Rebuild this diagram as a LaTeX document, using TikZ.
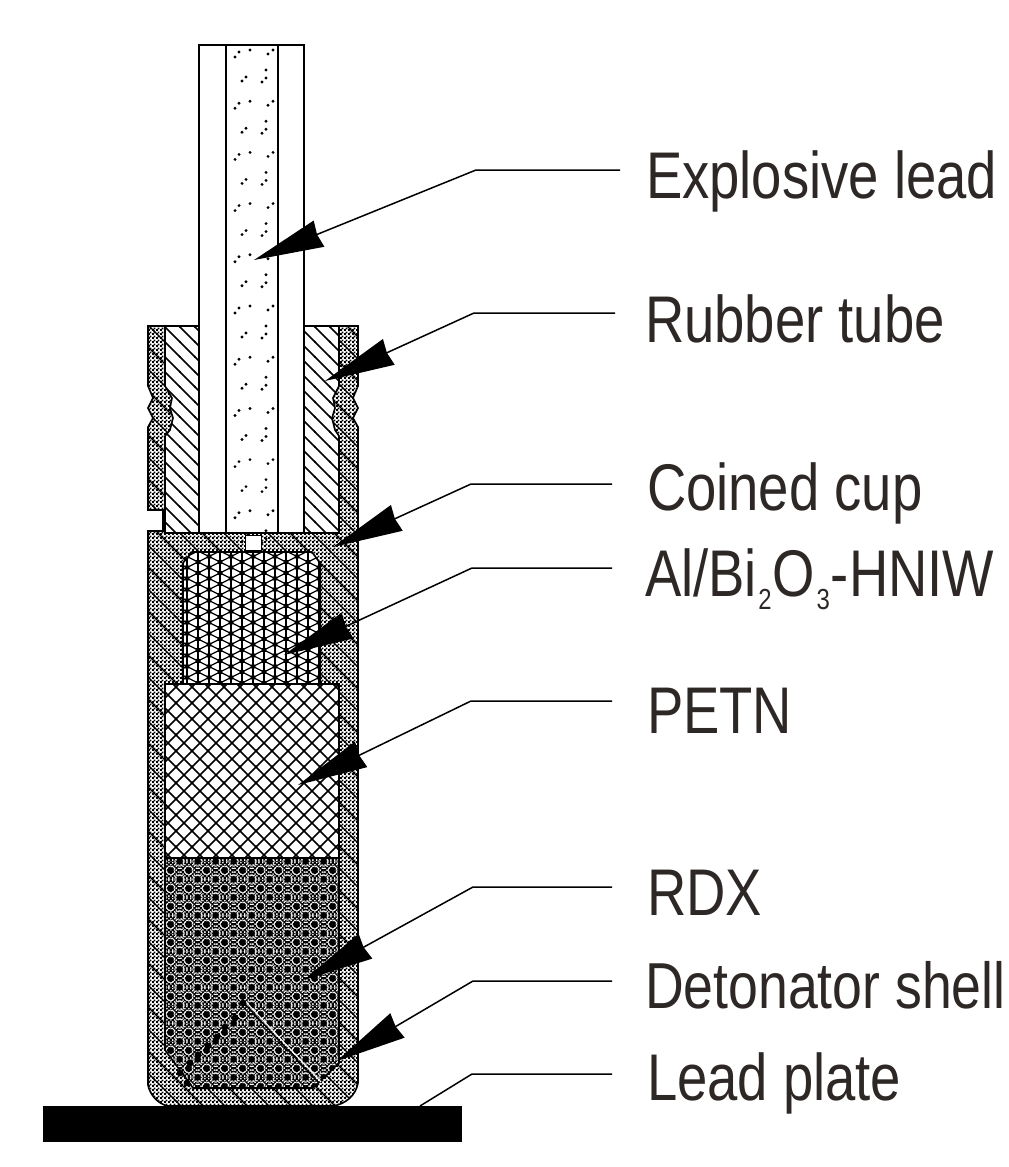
\documentclass[tikz,border=0pt]{standalone}
\usepackage{fontspec}
\usepackage{xcolor}
\setmainfont[FakeStretch=0.825]{Liberation Sans}
\usetikzlibrary{arrows.meta, patterns}
\definecolor{inktext}{RGB}{45,40,38}
\newcommand{\chemsub}[1]{\kern1.5pt\raisebox{-13pt}{\fontsize{29}{30}\selectfont #1}\kern1pt}

% fill textures, one tile each
\pgfdeclarepatternformonly{shellchk}{\pgfpointorigin}{\pgfpoint{4pt}{4pt}}{\pgfpoint{4pt}{4pt}}{
  \pgfpathrectangle{\pgfpointorigin}{\pgfpoint{2.3pt}{2.3pt}}
  \pgfpathrectangle{\pgfpoint{2pt}{2pt}}{\pgfpoint{2.3pt}{2.3pt}}
  \pgfusepath{fill}
}
\pgfdeclarepatternformonly{widehatch}{\pgfpoint{-1pt}{-1pt}}{\pgfpoint{23pt}{23pt}}{\pgfpoint{22pt}{22pt}}{
  \pgfsetlinewidth{1.3pt}
  \pgfpathmoveto{\pgfpoint{-1pt}{23pt}}
  \pgfpathlineto{\pgfpoint{23pt}{-1pt}}
  \pgfusepath{stroke}
}
\pgfdeclarepatternformonly{sleevehatch}{\pgfpoint{-1pt}{-1pt}}{\pgfpoint{16pt}{16pt}}{\pgfpoint{15pt}{15pt}}{
  \pgfsetlinewidth{1.7pt}
  \pgfpathmoveto{\pgfpoint{-1pt}{16pt}}
  \pgfpathlineto{\pgfpoint{16pt}{-1pt}}
  \pgfusepath{stroke}
}
\pgfdeclarepatternformonly{petnnet}{\pgfpoint{-1pt}{-1pt}}{\pgfpoint{17pt}{17pt}}{\pgfpoint{16pt}{16pt}}{
  \pgfsetlinewidth{1.6pt}
  \pgfpathmoveto{\pgfpoint{-1pt}{17pt}}
  \pgfpathlineto{\pgfpoint{17pt}{-1pt}}
  \pgfpathmoveto{\pgfpoint{-1pt}{-1pt}}
  \pgfpathlineto{\pgfpoint{17pt}{17pt}}
  \pgfusepath{stroke}
}
\pgfdeclarepatternformonly{alnet}{\pgfpoint{-2pt}{-2pt}}{\pgfpoint{24pt}{24pt}}{\pgfpoint{22pt}{22pt}}{
  \pgfsetlinewidth{2.2pt}
  \pgfpathmoveto{\pgfpoint{0pt}{-2pt}}\pgfpathlineto{\pgfpoint{0pt}{24pt}}
  \pgfpathmoveto{\pgfpoint{11pt}{-2pt}}\pgfpathlineto{\pgfpoint{11pt}{24pt}}
  \pgfpathmoveto{\pgfpoint{22pt}{-2pt}}\pgfpathlineto{\pgfpoint{22pt}{24pt}}
  \pgfusepath{stroke}
  \pgfsetlinewidth{1.2pt}
  \pgfpathmoveto{\pgfpoint{0pt}{0pt}}\pgfpathlineto{\pgfpoint{11pt}{5.5pt}}
  \pgfpathlineto{\pgfpoint{0pt}{11pt}}\pgfpathlineto{\pgfpoint{11pt}{16.5pt}}
  \pgfpathlineto{\pgfpoint{0pt}{22pt}}
  \pgfpathmoveto{\pgfpoint{22pt}{0pt}}\pgfpathlineto{\pgfpoint{11pt}{5.5pt}}
  \pgfpathlineto{\pgfpoint{22pt}{11pt}}\pgfpathlineto{\pgfpoint{11pt}{16.5pt}}
  \pgfpathlineto{\pgfpoint{22pt}{22pt}}
  \pgfusepath{stroke}
  \pgfpathcircle{\pgfpoint{11pt}{5.5pt}}{2.5pt}
  \pgfpathcircle{\pgfpoint{11pt}{16.5pt}}{2.5pt}
  \pgfpathcircle{\pgfpoint{0pt}{0pt}}{2.5pt}
  \pgfpathcircle{\pgfpoint{22pt}{0pt}}{2.5pt}
  \pgfpathcircle{\pgfpoint{0pt}{22pt}}{2.5pt}
  \pgfpathcircle{\pgfpoint{22pt}{22pt}}{2.5pt}
  \pgfpathcircle{\pgfpoint{22pt}{11pt}}{2.5pt}
  \pgfpathcircle{\pgfpoint{0pt}{11pt}}{2.5pt}
  \pgfusepath{fill}
}
\pgfdeclarepatterninherentlycolored{rdxgrain}{\pgfpointorigin}{\pgfpoint{18pt}{18pt}}{\pgfpoint{18pt}{18pt}}{
  \pgfsetfillcolor{white}
  \pgfpathrectangle{\pgfpointorigin}{\pgfpoint{18pt}{18pt}}
  \pgfusepath{fill}
  \pgfsetfillcolor{black}
  \foreach \i in {0,...,8}{
    \foreach \j in {0,...,8}{
      \ifodd\numexpr\i+\j\relax\else
        \pgfpathrectangle{\pgfpoint{\i*2pt}{\j*2pt}}{\pgfpoint{2.4pt}{2.4pt}}
      \fi
    }
  }
  \pgfusepath{fill}
  \pgfsetstrokecolor{white}
  \pgfsetlinewidth{.7pt}
  \pgfpathcircle{\pgfpoint{9pt}{9pt}}{4.6pt}
  \pgfpathcircle{\pgfpoint{0pt}{0pt}}{4.6pt}
  \pgfpathcircle{\pgfpoint{18pt}{0pt}}{4.6pt}
  \pgfpathcircle{\pgfpoint{0pt}{18pt}}{4.6pt}
  \pgfpathcircle{\pgfpoint{18pt}{18pt}}{4.6pt}
  \pgfusepath{stroke}
  \pgfpathcircle{\pgfpoint{9pt}{9pt}}{3pt}
  \pgfpathcircle{\pgfpoint{0pt}{0pt}}{3pt}
  \pgfpathcircle{\pgfpoint{18pt}{0pt}}{3pt}
  \pgfpathcircle{\pgfpoint{0pt}{18pt}}{3pt}
  \pgfpathcircle{\pgfpoint{18pt}{18pt}}{3pt}
  \pgfusepath{fill}
}

\begin{document}
\begin{tikzpicture}[
  x=1pt, y=-1pt,
  tag/.style={anchor=west, inner xsep=35pt, inner ysep=0pt, outer sep=0pt, text depth=0pt,
              text height=56pt, text=inktext, font=\fontsize{66}{72}\selectfont},
  leader/.style={line width=1.5pt, black},
  pointer/.style={leader, -{Stealth[length=70pt, width=28pt, inset=2pt]}},
  wall/.style={line width=1.6pt, black, line join=miter},
  grain/.style={fill=black, draw=none},
]
  \useasboundingbox (0,0) rectangle (1009,1167);

  % lead plate
  \fill[black] (43,1106) rectangle (462,1142);

  % detonator shell with the crimp and the gap on the left
  \def\shellpath{(148,326) -- (148,386) -- (153,398) -- (148,408) -- (153,418) -- (148,427) -- (148,510)
    -- (163,510) -- (163,531) -- (148,531) -- (148,1085) .. controls (150,1095) and (158,1104) .. (168,1106)
    -- (333,1106) .. controls (346,1104) and (356,1095) .. (358,1083) -- (358,427) -- (353,418) -- (358,408)
    -- (353,398) -- (358,386) -- (358,326) -- cycle}
  \fill[white] \shellpath;
  \path[pattern=shellchk] \shellpath;
  \path[pattern=widehatch] \shellpath;
  \draw[wall] \shellpath;

  % rubber tube sleeve, left and right of the lead
  \def\sleeveL{(165,326) -- (199,326) -- (199,533) -- (165,533) -- (165,436) -- (170,430) -- (173,418) -- (170,408) -- (172,398) -- (165,386) -- cycle}
  \def\sleeveR{(304,326) -- (339,326) -- (339,386) -- (333,398) -- (335,408) -- (332,418) -- (335,430) -- (339,436) -- (339,533) -- (304,533) -- cycle}
  \fill[white] \sleeveL;
  \path[pattern=sleevehatch] \sleeveL;
  \draw[wall] \sleeveL;
  \fill[white] \sleeveR;
  \path[pattern=sleevehatch] \sleeveR;
  \draw[wall] \sleeveR;

  % explosive lead
  \draw[wall, fill=white] (199,45) rectangle (304,533);
  \draw[wall] (226,45) -- (226,533);
  \draw[wall] (278,45) -- (278,533);
  \foreach \k in {0,...,9}{
    \foreach \px/\py in {235/57, 239/52, 250/50, 268/54, 273/50, 242/81, 246/77, 262/82, 266/78, 266/70}{
      \fill[grain] (\px,\py+\k*51.2) circle (1.6);
    }
  }

  % coined cup: hole in its middle
  \draw[line width=.8pt, fill=white] (245,535) rectangle (261,550);
  \draw[wall] (165,533) -- (339,533);

  % Al/Bi2O3-HNIW charge
  \def\alpath{(183,563) -- (192,552) -- (312,552) -- (320,563) -- (320,684) -- (183,684) -- cycle}
  \fill[white] \alpath;
  \path[pattern=alnet] \alpath;
  \draw[wall] \alpath;

  % PETN
  \fill[white] (165,684) rectangle (339,858);
  \path[pattern=petnnet] (165,684) rectangle (339,858);
  \draw[wall] (165,684) rectangle (339,858);

  % RDX, with the seam left in its lower part
  \def\rdxpath{(165,858) -- (339,858) -- (339,1063) -- (313,1088) -- (193,1088) -- (165,1050) -- cycle}
  \path[pattern=rdxgrain] \rdxpath;
  \draw[wall] \rdxpath;
  \draw[line width=1.3pt, black] (243,1002) -- (318,1082);
  \draw[line width=1.1pt, white] (246,1002) -- (321,1082);
  \foreach \sx/\sy in {243/1003, 235/1018, 225/1027, 217/1037, 208/1046, 198/1055, 190/1063, 180/1073, 187/1083}{
    \fill[grain] (\sx,\sy) circle (3.4);
  }

  % labels
  \node[tag, inner xsep=26pt] (lblLead) at (620,170) {Explosive lead};
  \node[tag, inner xsep=30pt, text height=58pt] (lblTube) at (615,313) {Rubber tube};
  \node[tag, text height=52pt] (lblCup)  at (612,484)  {Coined cup};
  \node[tag, inner xsep=33pt] (lblAl)    at (612,568)  {Al/Bi\chemsub{2}O\chemsub{3}-HNIW};
  \node[tag, text height=64pt] (lblPetn) at (612,701)  {PETN};
  \node[tag] (lblRdx)    at (612,887)  {RDX};
  \node[tag, inner xsep=33pt, text height=54pt, font=\fontsize{65}{72}\selectfont] (lblShell) at (612,981) {Detonator shell};
  \node[tag, text height=52pt] (lblPlate) at (612,1074) {Lead plate};

  % pointers
  \draw[pointer] (lblLead.west)  -- (476,170)  -- (254,260);
  \draw[pointer] (lblTube.west)  -- (474,313)  -- (325,381);
  \draw[pointer] (lblCup.west)   -- (471,484)  -- (333,547);
  \draw[pointer] (lblAl.west)    -- (472,568)  -- (284,655);
  \draw[pointer] (lblPetn.west)  -- (471,701)  -- (298,785);
  \draw[pointer] (lblRdx.west)   -- (473,887)  -- (304,980);
  \draw[pointer] (lblShell.west) -- (473,981)  -- (337,1061);
  \draw[leader]  (lblPlate.west) -- (472,1074) -- (420,1106);
\end{tikzpicture}
\end{document}
